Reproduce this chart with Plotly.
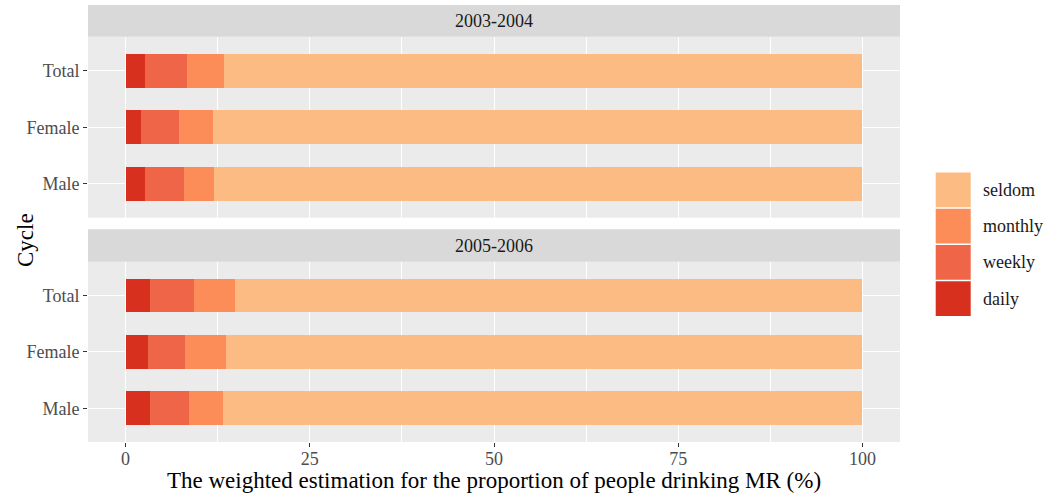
import plotly.graph_objects as go
from plotly.subplots import make_subplots

cycles = ["2003-2004", "2005-2006"]
groups = ["Male", "Female", "Total"]
levels = ["daily", "weekly", "monthly", "seldom"]
colors = {"daily": "#d7301f", "weekly": "#ef6548", "monthly": "#fc8d59", "seldom": "#fdbb84"}

# values per cycle, in order of groups (Male, Female, Total)
daily_0304 = [2.7, 2.1, 2.6]
weekly_0304 = [5.25, 5.1, 5.8]
monthly_0304 = [4.05, 4.65, 4.9]
seldom_0304 = [88.0, 88.15, 86.7]

daily_0506 = [3.3, 3.0, 3.3]
weekly_0506 = [5.35, 5.1, 6.0]
monthly_0506 = [4.55, 5.5, 5.6]
seldom_0506 = [86.8, 86.4, 85.1]

data = {
    "2003-2004": {"daily": daily_0304, "weekly": weekly_0304, "monthly": monthly_0304, "seldom": seldom_0304},
    "2005-2006": {"daily": daily_0506, "weekly": weekly_0506, "monthly": monthly_0506, "seldom": seldom_0506},
}

W, H = 1063, 497
ml, mr, mt, mb = 88, 163, 37, 55
pw = W - ml - mr
ph = H - mt - mb
FS = 18
TS = 23

def py(pix):
    return (H - mb - pix) / ph

def px(pix):
    return (pix - ml) / pw

fig = make_subplots(rows=2, cols=1, shared_xaxes=False)

for r, cyc in enumerate(cycles, start=1):
    for lv in levels:
        fig.add_trace(go.Bar(
            y=groups, x=data[cyc][lv], orientation="h", name=lv,
            marker=dict(color=colors[lv], line=dict(width=0)),
            showlegend=False, hoverinfo="x+y+name"), row=r, col=1)

fig.update_layout(
    barmode="stack", bargap=0.4,
    width=W, height=H,
    margin=dict(l=ml, r=mr, t=mt, b=mb, autoexpand=False),
    paper_bgcolor="white", plot_bgcolor="#ebebeb",
    font=dict(family="Liberation Serif", size=FS, color="#4d4d4d"),
)

p1_dom = [py(217.7), 1.0]
p2_dom = [0.0, py(261.7)]

axis_common = dict(
    range=[-5.1, 105.1], dtick=25, tick0=0,
    showgrid=True, gridcolor="white", gridwidth=1.4,
    minor=dict(dtick=12.5, tick0=0, showgrid=True, gridcolor="white", gridwidth=0.6),
    zeroline=False, showline=False, automargin=False,
    tickfont=dict(family="Liberation Serif", size=FS, color="#4d4d4d"),
)

yaxis_common = dict(
    categoryorder="array", categoryarray=groups, range=[-0.6, 2.6],
    showgrid=True, gridcolor="white", gridwidth=1.4, ticks="outside", ticklen=4,
    tickwidth=1.2, tickcolor="#333333", zeroline=False, automargin=False,
    tickfont=dict(family="Liberation Serif", size=FS, color="#4d4d4d"),
)

fig.update_layout(
    xaxis=dict(**axis_common, showticklabels=False, ticks="", anchor="y"),
    xaxis2=dict(**axis_common, ticks="outside", ticklen=4, tickwidth=1.2, tickcolor="#333333",
                anchor="y2", ticklabelstandoff=-4),
    yaxis=dict(domain=p1_dom, **yaxis_common),
    yaxis2=dict(domain=p2_dom, **yaxis_common),
)

shapes = []
annotations = []
# facet strips
strips = [(5, 36.7, cycles[0]), (229.3, 261.7, cycles[1])]
for top, bot, label in strips:
    shapes.append(dict(type="rect", xref="paper", yref="paper", x0=0, x1=1,
                       y0=py(bot), y1=py(top), fillcolor="#d9d9d9", line=dict(width=0), layer="below"))
    annotations.append(dict(xref="paper", yref="paper", x=0.5, y=(py(bot) + py(top)) / 2,
                            text=label, showarrow=False, xanchor="center", yanchor="middle",
                            font=dict(family="Liberation Serif", size=FS, color="#1a1a1a")))

# axis titles
annotations.append(dict(xref="paper", yref="paper", x=0.5, y=py(480),
                        text="The weighted estimation for the proportion of people drinking MR (%)",
                        showarrow=False, xanchor="center", yanchor="middle",
                        font=dict(family="Liberation Serif", size=TS, color="black")))
annotations.append(dict(xref="paper", yref="paper", x=px(25), y=py(240), text="Cycle", textangle=-90,
                        showarrow=False, xanchor="center", yanchor="middle",
                        font=dict(family="Liberation Serif", size=TS, color="black")))

# legend (manual)
leg_order = ["seldom", "monthly", "weekly", "daily"]
key_top = 171.7
key_h = 36.25
for i, lv in enumerate(leg_order):
    t = key_top + i * key_h
    b = t + key_h
    shapes.append(dict(type="rect", xref="paper", yref="paper", x0=px(935.7), x1=px(970.7),
                       y0=py(b - 0.7), y1=py(t + 0.7), fillcolor=colors[lv], line=dict(width=0)))
    annotations.append(dict(xref="paper", yref="paper", x=px(981), y=py((t + b) / 2), text=lv,
                            showarrow=False, xanchor="left", yanchor="middle",
                            font=dict(family="Liberation Serif", size=FS, color="#1a1a1a")))

fig.update_layout(shapes=shapes, annotations=annotations)

fig.write_html("out.html")
